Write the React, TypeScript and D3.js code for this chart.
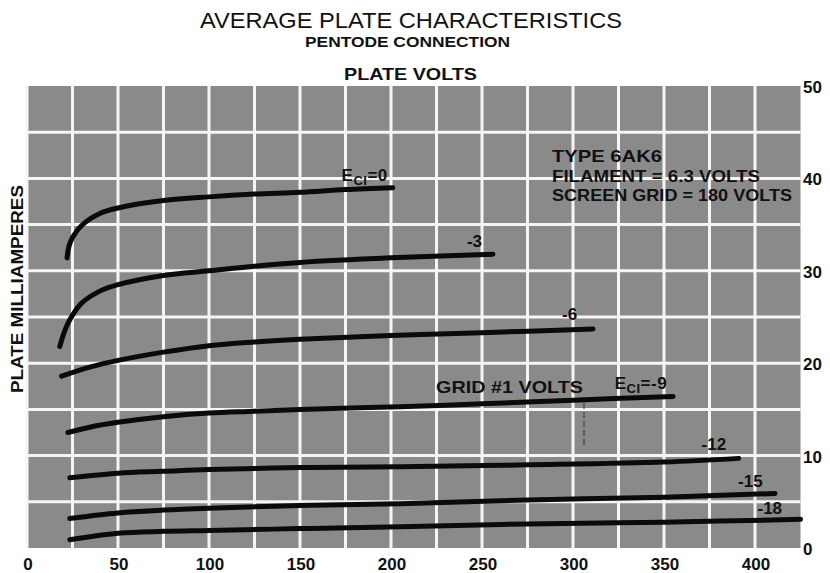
import React from "react";
import * as d3 from "d3";

// ---- data ----
const xTicks = [0, 50, 100, 150, 200, 250, 300, 350, 400];
const yTicks = [0, 10, 20, 30, 40, 50];

const curveEc0: [number, number][] = [[22, 31.4], [23, 32.6], [25, 33.6], [30, 34.9], [40, 36.2], [50, 36.8], [75, 37.6], [100, 38.0], [125, 38.3], [150, 38.5], [175, 38.8], [201, 39.0]];
const curveEc3: [number, number][] = [[18, 21.8], [20, 23.1], [22, 24.1], [25, 25.2], [30, 26.5], [40, 27.8], [50, 28.5], [75, 29.5], [100, 30.0], [125, 30.5], [150, 30.9], [200, 31.4], [256, 31.8]];
const curveEc6: [number, number][] = [[19, 18.6], [35, 19.6], [50, 20.3], [75, 21.2], [100, 21.9], [125, 22.3], [150, 22.6], [200, 23.0], [250, 23.3], [311, 23.7]];
const curveEc9: [number, number][] = [[22.5, 12.5], [35, 13.1], [50, 13.6], [75, 14.2], [100, 14.6], [125, 14.8], [150, 15.0], [205, 15.3], [250, 15.6], [300, 16.0], [355, 16.4]];
const curveEc12: [number, number][] = [[23.5, 7.6], [50, 8.1], [75, 8.3], [100, 8.5], [150, 8.7], [205, 8.8], [275, 9.0], [350, 9.3], [391, 9.7]];
const curveEc15: [number, number][] = [[23.5, 3.2], [50, 3.8], [75, 4.1], [100, 4.3], [150, 4.6], [205, 4.8], [275, 5.2], [350, 5.5], [411, 5.9]];
const curveEc18: [number, number][] = [[23.5, 0.9], [50, 1.6], [75, 1.8], [100, 1.9], [150, 2.1], [205, 2.3], [275, 2.6], [350, 2.8], [425, 3.1]];

const seriesLabels = ["0", "-3", "-6", "-9", "-12", "-15", "-18"];
const allCurves = [curveEc0, curveEc3, curveEc6, curveEc9, curveEc12, curveEc15, curveEc18];

const titleText = "AVERAGE PLATE CHARACTERISTICS";
const subtitleText = "PENTODE CONNECTION";
const xAxisTitle = "PLATE VOLTS";
const yAxisTitle = "PLATE MILLIAMPERES";
const noteLines = ["TYPE  6AK6", "FILAMENT = 6.3 VOLTS", "SCREEN GRID = 180 VOLTS"];

// ---- layout / style ----
const W = 830, H = 573;
const FONT = "'Liberation Sans', Arial, sans-serif";
// label offsets (px) relative to curve end point
const labelOffsets: Record<string, [number, number]> = {
  "-3": [-26, -7],
  "-6": [-31, -9],
  "-12": [-37, -8],
  "-15": [-37, -6],
  "-18": [-43, -5],
};

export default function App() {
  const x = d3.scaleLinear().domain([0, 425]).range([27, 800.5]);
  const y = d3.scaleLinear().domain([0, 50]).range([548, 86]);
  const line = d3
    .line<[number, number]>()
    .x((d) => x(d[0]))
    .y((d) => y(d[1]))
    .curve(d3.curveCatmullRom.alpha(0.5));

  const vGrid = d3.range(0, 425, 25);
  const hGrid = d3.range(5, 50, 5);

  return (
    <svg
      width={W}
      height={H}
      style={{ position: "absolute", left: 0, top: 0, background: "#fff" }}
      fontFamily={FONT}
    >
      {/* plot background */}
      <rect x={x(0)} y={y(50)} width={x(425) - x(0)} height={y(0) - y(50)} fill="#8a8a8a" />
      {vGrid.map((v) => (
        <line key={"v" + v} x1={x(v)} x2={x(v)} y1={y(50)} y2={y(0)} stroke="#f5f5f5" strokeWidth={3} />
      ))}
      {hGrid.map((v) => (
        <line key={"h" + v} x1={x(0)} x2={x(425)} y1={y(v)} y2={y(v)} stroke="#f5f5f5" strokeWidth={3} />
      ))}

      {/* titles */}
      <text x={411} y={28} fontSize={22} textAnchor="middle" textLength={422} lengthAdjust="spacingAndGlyphs" fill="#111">
        {titleText}
      </text>
      <text x={305} y={47} fontSize={15} fontWeight="bold" textLength={205} lengthAdjust="spacingAndGlyphs" fill="#111">
        {subtitleText}
      </text>
      <text x={344} y={80} fontSize={16.5} fontWeight="bold" textLength={133} lengthAdjust="spacingAndGlyphs" fill="#111">
        {xAxisTitle}
      </text>
      <text
        transform="translate(23,289) rotate(-90)"
        fontSize={17}
        fontWeight="bold"
        textAnchor="middle"
        textLength={208}
        lengthAdjust="spacingAndGlyphs"
        fill="#111"
      >
        {yAxisTitle}
      </text>

      {/* axis tick labels */}
      {xTicks.map((v) => (
        <text key={"xt" + v} x={x(v) + 1} y={570} fontSize={17} fontWeight="bold" textAnchor="middle" fill="#111">
          {v}
        </text>
      ))}
      {yTicks.map((v) => (
        <text key={"yt" + v} x={803} y={y(v) + 7} fontSize={17} fontWeight="bold" fill="#111">
          {v}
        </text>
      ))}

      {/* curves */}
      {allCurves.map((c, i) => (
        <path key={"c" + i} d={line(c) || ""} fill="none" stroke="#0a0a0a" strokeWidth={5} strokeLinecap="round" strokeLinejoin="round" />
      ))}

      {/* artifact dashed tick */}
      <line x1={584} x2={584} y1={403} y2={447} stroke="#333" strokeWidth={1} strokeDasharray="6 3" />

      {/* curve labels */}
      {(() => {
        const end = curveEc0[curveEc0.length - 1];
        const ex = x(end[0]) - 5;
        const ey = y(end[1]) - 7;
        return (
          <text x={ex} y={ey} fontSize={17} fontWeight="bold" textAnchor="end" fill="#111" letterSpacing={0.5}>
            E<tspan dy={4} fontSize={13}>CI</tspan>
            <tspan dy={-4}>{"=" + seriesLabels[0]}</tspan>
          </text>
        );
      })()}
      {(() => {
        const end = curveEc9[curveEc9.length - 1];
        const ex = x(end[0]) - 6;
        const ey = y(end[1]) - 7;
        return (
          <g>
            <text x={436} y={ey + 4} fontSize={16.5} fontWeight="bold" textLength={147} lengthAdjust="spacingAndGlyphs" fill="#111">
              GRID #1 VOLTS
            </text>
            <text x={ex} y={ey} fontSize={17} fontWeight="bold" textAnchor="end" fill="#111" letterSpacing={0.5}>
              E<tspan dy={4} fontSize={13}>CI</tspan>
              <tspan dy={-4}>{"=" + seriesLabels[3]}</tspan>
            </text>
          </g>
        );
      })()}
      {allCurves.map((c, i) => {
        const lab = seriesLabels[i];
        const off = labelOffsets[lab];
        if (!off) return null;
        const end = c[c.length - 1];
        return (
          <text key={"l" + i} x={x(end[0]) + off[0]} y={y(end[1]) + off[1]} fontSize={17} fontWeight="bold" fill="#111">
            {lab}
          </text>
        );
      })}

      {/* type note */}
      {noteLines.map((t, i) => (
        <text
          key={"n" + i}
          x={552}
          y={162 + i * 19.5}
          fontSize={16.5}
          fontWeight="bold"
          textLength={[110, 208, 240][i]}
          lengthAdjust="spacingAndGlyphs"
          fill="#111"
        >
          {t}
        </text>
      ))}
    </svg>
  );
}
